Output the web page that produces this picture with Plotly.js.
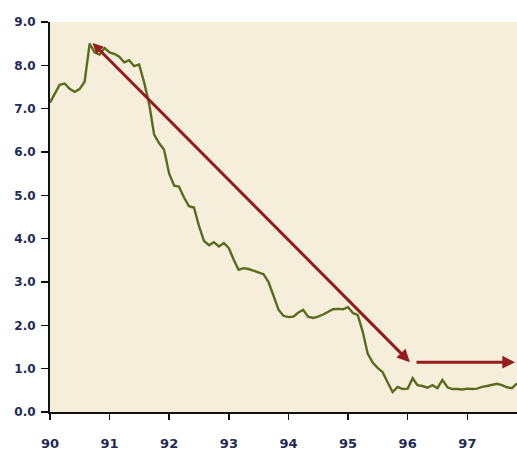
<!DOCTYPE html>
<html>
<head>
<meta charset="utf-8">
<script src="https://cdn.plot.ly/plotly-3.0.1.min.js"></script>
<style>
  html, body { margin: 0; padding: 0; background: #ffffff; }
  #chart { width: 517px; height: 452px; }
</style>
</head>
<body>
<div id="chart"></div>
<script>
// Monthly interest rate, % p.a., January 1990 onwards
const startYear = 1990;
const rates1990 = [7.14, 7.35, 7.55, 7.58, 7.46, 7.39, 7.45, 7.62, 8.50, 8.30, 8.25, 8.40];
const rates1991 = [8.30, 8.26, 8.20, 8.07, 8.12, 7.98, 8.02, 7.60, 7.10, 6.40, 6.20, 6.05];
const rates1992 = [5.50, 5.22, 5.20, 4.95, 4.75, 4.72, 4.30, 3.95, 3.85, 3.92, 3.82, 3.90];
const rates1993 = [3.78, 3.50, 3.28, 3.32, 3.30, 3.26, 3.22, 3.18, 3.00, 2.70, 2.36, 2.22];
const rates1994 = [2.19, 2.20, 2.29, 2.36, 2.20, 2.17, 2.20, 2.25, 2.32, 2.37, 2.38, 2.37];
const rates1995 = [2.42, 2.28, 2.24, 1.85, 1.35, 1.14, 1.02, 0.92, 0.68, 0.46, 0.58, 0.53];
const rates1996 = [0.54, 0.78, 0.62, 0.60, 0.56, 0.62, 0.55, 0.74, 0.57, 0.53, 0.53, 0.52];
const rates1997 = [0.54, 0.53, 0.54, 0.58, 0.60, 0.63, 0.65, 0.62, 0.57, 0.55, 0.66];

// Trend arrows: [date, value]
const downArrowFrom = ['1990-09-10', 8.55];
const downArrowTo   = ['1996-01-15', 1.15];
const flatArrowFrom = ['1996-02-15', 1.15];
const flatArrowTo   = ['1997-10-20', 1.15];

const yTickVals = [0, 1, 2, 3, 4, 5, 6, 7, 8, 9];
const yTickText = ['0.0', '1.0', '2.0', '3.0', '4.0', '5.0', '6.0', '7.0', '8.0', '9.0'];

const yearly = [rates1990, rates1991, rates1992, rates1993, rates1994, rates1995, rates1996, rates1997];
const dates = [];
const values = [];
yearly.forEach((arr, yi) => {
  arr.forEach((v, mi) => {
    const mm = String(mi + 1).padStart(2, '0');
    dates.push((startYear + yi) + '-' + mm + '-01');
    values.push(v);
  });
});

const lineColor = '#5b6b1e';
const arrowColor = '#951c1c';
const yLabelFont = { family: 'DejaVu Sans, sans-serif', size: 12, color: '#1f2a55', weight: 'bold' };
const xLabelFont = { family: 'DejaVu Sans, sans-serif', size: 13, color: '#1f2a55', weight: 'bold' };

const trace = {
  x: dates,
  y: values,
  type: 'scatter',
  mode: 'lines',
  line: { color: lineColor, width: 2.4 },
  hoverinfo: 'skip'
};

function arrow(from, to, both) {
  return {
    x: to[0], y: to[1], ax: from[0], ay: from[1],
    xref: 'x', yref: 'y', axref: 'x', ayref: 'y',
    text: '', showarrow: true,
    arrowhead: 2, arrowsize: 0.85, arrowwidth: 3, arrowcolor: arrowColor,
    arrowside: both ? 'end+start' : 'end',
    startarrowhead: 2, startarrowsize: 0.7,
    standoff: 0, startstandoff: 0
  };
}

const layout = {
  width: 517,
  height: 452,
  margin: { l: 50, r: 0, t: 22, b: 40, pad: 0 },
  paper_bgcolor: '#ffffff',
  plot_bgcolor: '#f5eedb',
  showlegend: false,
  xaxis: {
    type: 'date',
    range: ['1990-01-01', '1997-11-01'],
    tick0: '1990-01-01',
    dtick: 'M12',
    tickformat: '%y',
    ticks: 'outside',
    ticklen: 6,
    tickwidth: 1.5,
    tickcolor: '#111111',
    showline: true,
    linecolor: '#111111',
    linewidth: 2,
    showgrid: false,
    zeroline: false,
    ticklabelstandoff: 12,
    tickfont: xLabelFont,
    fixedrange: true
  },
  yaxis: {
    range: [0, 9],
    tickvals: yTickVals,
    ticktext: yTickText,
    ticks: 'outside',
    ticklen: 7,
    tickwidth: 1.5,
    tickcolor: '#111111',
    showline: true,
    linecolor: '#111111',
    linewidth: 2,
    showgrid: false,
    zeroline: false,
    ticklabelstandoff: 3,
    tickfont: yLabelFont,
    fixedrange: true
  },
  annotations: [
    arrow(downArrowFrom, downArrowTo, true),
    arrow(flatArrowFrom, flatArrowTo, false)
  ]
};

Plotly.newPlot('chart', [trace], layout, { displayModeBar: false, staticPlot: true });
</script>
</body>
</html>
